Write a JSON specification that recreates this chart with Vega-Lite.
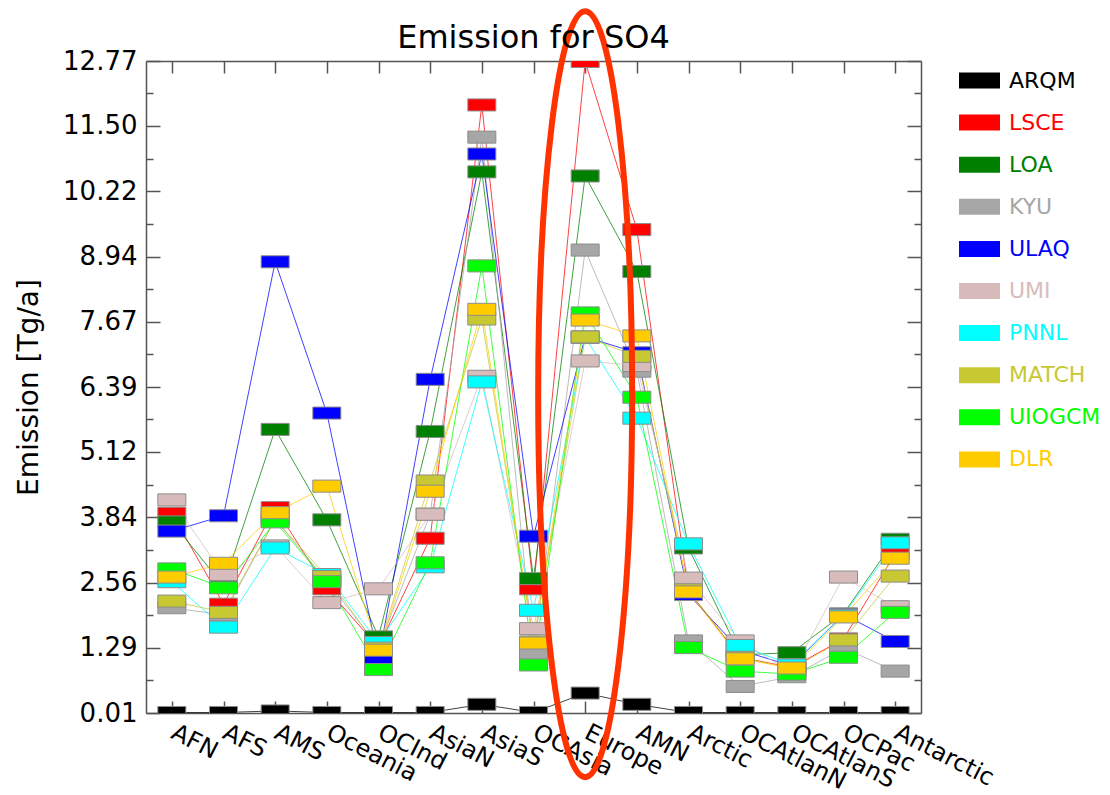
{
  "$schema": "https://vega.github.io/schema/vega-lite/v6.json",
  "autosize": "none",
  "width": 775,
  "height": 652,
  "padding": {"left": 146, "top": 61, "right": 189, "bottom": 82},
  "background": "white",
  "title": {"text": "Emission for SO4", "font": "DejaVu Sans", "fontSize": 32, "fontWeight": "normal", "color": "black", "anchor": "middle", "baseline": "alphabetic", "offset": -81, "frame": "group"},
  "config": {
    "view": {"stroke": null},
    "axis": {"grid": false, "domainColor": "#555555", "tickColor": "#555555", "domainWidth": 1.5, "tickWidth": 1.5, "labelColor": "black", "labelFont": "DejaVu Sans"}
  },
  "datasets": {
    "emis": [
      {"model": "ARQM", "region": "AFN", "value": 0.02}, {"model": "ARQM", "region": "AFS", "value": 0.02}, {"model": "ARQM", "region": "AMS", "value": 0.05}, {"model": "ARQM", "region": "Oceania", "value": 0.02}, {"model": "ARQM", "region": "OCInd", "value": 0.02}, {"model": "ARQM", "region": "AsiaN", "value": 0.02}, {"model": "ARQM", "region": "AsiaS", "value": 0.18}, {"model": "ARQM", "region": "OCAsia", "value": 0.02}, {"model": "ARQM", "region": "Europe", "value": 0.40}, {"model": "ARQM", "region": "AMN", "value": 0.18}, {"model": "ARQM", "region": "Arctic", "value": 0.02}, {"model": "ARQM", "region": "OCAtlanN", "value": 0.02}, {"model": "ARQM", "region": "OCAtlanS", "value": 0.02}, {"model": "ARQM", "region": "OCPac", "value": 0.02}, {"model": "ARQM", "region": "Antarctic", "value": 0.02},
      {"model": "LSCE", "region": "AFN", "value": 3.92}, {"model": "LSCE", "region": "AFS", "value": 2.14}, {"model": "LSCE", "region": "AMS", "value": 4.03}, {"model": "LSCE", "region": "Oceania", "value": 2.44}, {"model": "LSCE", "region": "OCInd", "value": 1.30}, {"model": "LSCE", "region": "AsiaN", "value": 3.43}, {"model": "LSCE", "region": "AsiaS", "value": 11.91}, {"model": "LSCE", "region": "OCAsia", "value": 2.44}, {"model": "LSCE", "region": "Europe", "value": 12.76}, {"model": "LSCE", "region": "AMN", "value": 9.47}, {"model": "LSCE", "region": "Arctic", "value": 2.40}, {"model": "LSCE", "region": "OCAtlanN", "value": 1.10}, {"model": "LSCE", "region": "OCAtlanS", "value": 0.90}, {"model": "LSCE", "region": "OCPac", "value": 1.46}, {"model": "LSCE", "region": "Antarctic", "value": 3.13},
      {"model": "LOA", "region": "AFN", "value": 3.75}, {"model": "LOA", "region": "AFS", "value": 2.50}, {"model": "LOA", "region": "AMS", "value": 5.56}, {"model": "LOA", "region": "Oceania", "value": 3.79}, {"model": "LOA", "region": "OCInd", "value": 1.50}, {"model": "LOA", "region": "AsiaN", "value": 5.52}, {"model": "LOA", "region": "AsiaS", "value": 10.60}, {"model": "LOA", "region": "OCAsia", "value": 2.64}, {"model": "LOA", "region": "Europe", "value": 10.52}, {"model": "LOA", "region": "AMN", "value": 8.65}, {"model": "LOA", "region": "Arctic", "value": 3.24}, {"model": "LOA", "region": "OCAtlanN", "value": 1.15}, {"model": "LOA", "region": "OCAtlanS", "value": 1.19}, {"model": "LOA", "region": "OCPac", "value": 1.95}, {"model": "LOA", "region": "Antarctic", "value": 3.41},
      {"model": "KYU", "region": "AFN", "value": 2.07}, {"model": "KYU", "region": "AFS", "value": 1.93}, {"model": "KYU", "region": "AMS", "value": 3.80}, {"model": "KYU", "region": "Oceania", "value": 2.60}, {"model": "KYU", "region": "OCInd", "value": 1.30}, {"model": "KYU", "region": "AsiaN", "value": 3.90}, {"model": "KYU", "region": "AsiaS", "value": 11.28}, {"model": "KYU", "region": "OCAsia", "value": 1.16}, {"model": "KYU", "region": "Europe", "value": 9.07}, {"model": "KYU", "region": "AMN", "value": 6.70}, {"model": "KYU", "region": "Arctic", "value": 1.42}, {"model": "KYU", "region": "OCAtlanN", "value": 0.53}, {"model": "KYU", "region": "OCAtlanS", "value": 0.72}, {"model": "KYU", "region": "OCPac", "value": 1.28}, {"model": "KYU", "region": "Antarctic", "value": 0.83},
      {"model": "ULAQ", "region": "AFN", "value": 3.57}, {"model": "ULAQ", "region": "AFS", "value": 3.87}, {"model": "ULAQ", "region": "AMS", "value": 8.84}, {"model": "ULAQ", "region": "Oceania", "value": 5.88}, {"model": "ULAQ", "region": "OCInd", "value": 1.06}, {"model": "ULAQ", "region": "AsiaN", "value": 6.54}, {"model": "ULAQ", "region": "AsiaS", "value": 10.95}, {"model": "ULAQ", "region": "OCAsia", "value": 3.47}, {"model": "ULAQ", "region": "Europe", "value": 7.37}, {"model": "ULAQ", "region": "AMN", "value": 7.06}, {"model": "ULAQ", "region": "Arctic", "value": 2.33}, {"model": "ULAQ", "region": "OCAtlanN", "value": 1.24}, {"model": "ULAQ", "region": "OCAtlanS", "value": 0.93}, {"model": "ULAQ", "region": "OCPac", "value": 1.94}, {"model": "ULAQ", "region": "Antarctic", "value": 1.41},
      {"model": "UMI", "region": "AFN", "value": 4.18}, {"model": "UMI", "region": "AFS", "value": 2.72}, {"model": "UMI", "region": "AMS", "value": 3.28}, {"model": "UMI", "region": "Oceania", "value": 2.17}, {"model": "UMI", "region": "OCInd", "value": 2.44}, {"model": "UMI", "region": "AsiaN", "value": 3.90}, {"model": "UMI", "region": "AsiaS", "value": 6.60}, {"model": "UMI", "region": "OCAsia", "value": 1.66}, {"model": "UMI", "region": "Europe", "value": 6.90}, {"model": "UMI", "region": "AMN", "value": 6.81}, {"model": "UMI", "region": "Arctic", "value": 2.65}, {"model": "UMI", "region": "OCAtlanN", "value": 1.42}, {"model": "UMI", "region": "OCAtlanS", "value": 0.80}, {"model": "UMI", "region": "OCPac", "value": 2.67}, {"model": "UMI", "region": "Antarctic", "value": 2.09},
      {"model": "PNNL", "region": "AFN", "value": 2.58}, {"model": "PNNL", "region": "AFS", "value": 1.69}, {"model": "PNNL", "region": "AMS", "value": 3.24}, {"model": "PNNL", "region": "Oceania", "value": 2.72}, {"model": "PNNL", "region": "OCInd", "value": 1.39}, {"model": "PNNL", "region": "AsiaN", "value": 2.87}, {"model": "PNNL", "region": "AsiaS", "value": 6.49}, {"model": "PNNL", "region": "OCAsia", "value": 2.02}, {"model": "PNNL", "region": "Europe", "value": 7.36}, {"model": "PNNL", "region": "AMN", "value": 5.78}, {"model": "PNNL", "region": "Arctic", "value": 3.32}, {"model": "PNNL", "region": "OCAtlanN", "value": 1.33}, {"model": "PNNL", "region": "OCAtlanS", "value": 0.95}, {"model": "PNNL", "region": "OCPac", "value": 1.92}, {"model": "PNNL", "region": "Antarctic", "value": 3.34},
      {"model": "MATCH", "region": "AFN", "value": 2.20}, {"model": "MATCH", "region": "AFS", "value": 1.98}, {"model": "MATCH", "region": "AMS", "value": 3.80}, {"model": "MATCH", "region": "Oceania", "value": 2.68}, {"model": "MATCH", "region": "OCInd", "value": 1.28}, {"model": "MATCH", "region": "AsiaN", "value": 4.55}, {"model": "MATCH", "region": "AsiaS", "value": 7.72}, {"model": "MATCH", "region": "OCAsia", "value": 1.40}, {"model": "MATCH", "region": "Europe", "value": 7.37}, {"model": "MATCH", "region": "AMN", "value": 6.99}, {"model": "MATCH", "region": "Arctic", "value": 2.42}, {"model": "MATCH", "region": "OCAtlanN", "value": 1.10}, {"model": "MATCH", "region": "OCAtlanS", "value": 0.88}, {"model": "MATCH", "region": "OCPac", "value": 1.44}, {"model": "MATCH", "region": "Antarctic", "value": 2.69},
      {"model": "UIOGCM", "region": "AFN", "value": 2.83}, {"model": "UIOGCM", "region": "AFS", "value": 2.46}, {"model": "UIOGCM", "region": "AMS", "value": 3.75}, {"model": "UIOGCM", "region": "Oceania", "value": 2.58}, {"model": "UIOGCM", "region": "OCInd", "value": 0.86}, {"model": "UIOGCM", "region": "AsiaN", "value": 2.95}, {"model": "UIOGCM", "region": "AsiaS", "value": 8.76}, {"model": "UIOGCM", "region": "OCAsia", "value": 0.95}, {"model": "UIOGCM", "region": "Europe", "value": 7.84}, {"model": "UIOGCM", "region": "AMN", "value": 6.19}, {"model": "UIOGCM", "region": "Arctic", "value": 1.29}, {"model": "UIOGCM", "region": "OCAtlanN", "value": 0.83}, {"model": "UIOGCM", "region": "OCAtlanS", "value": 0.77}, {"model": "UIOGCM", "region": "OCPac", "value": 1.10}, {"model": "UIOGCM", "region": "Antarctic", "value": 1.98},
      {"model": "DLR", "region": "AFN", "value": 2.67}, {"model": "DLR", "region": "AFS", "value": 2.94}, {"model": "DLR", "region": "AMS", "value": 3.93}, {"model": "DLR", "region": "Oceania", "value": 4.45}, {"model": "DLR", "region": "OCInd", "value": 1.24}, {"model": "DLR", "region": "AsiaN", "value": 4.35}, {"model": "DLR", "region": "AsiaS", "value": 7.91}, {"model": "DLR", "region": "OCAsia", "value": 1.38}, {"model": "DLR", "region": "Europe", "value": 7.70}, {"model": "DLR", "region": "AMN", "value": 7.39}, {"model": "DLR", "region": "Arctic", "value": 2.38}, {"model": "DLR", "region": "OCAtlanN", "value": 1.07}, {"model": "DLR", "region": "OCAtlanS", "value": 0.89}, {"model": "DLR", "region": "OCPac", "value": 1.89}, {"model": "DLR", "region": "Antarctic", "value": 3.04}
    ]
  },
  "data": {"name": "emis"},
  "resolve": {"axis": {"x": "independent", "y": "independent"}},
  "layer": [
    {
      "mark": {"type": "line", "strokeWidth": 1, "opacity": 0.75, "clip": true},
      "encoding": {
        "x": {"field": "region", "type": "nominal",
          "scale": {"type": "point", "padding": 0.5, "domain": ["AFN", "AFS", "AMS", "Oceania", "OCInd", "AsiaN", "AsiaS", "OCAsia", "Europe", "AMN", "Arctic", "OCAtlanN", "OCAtlanS", "OCPac", "Antarctic"]},
          "axis": {"orient": "bottom", "title": null, "labelAngle": 27, "labelAlign": "left", "labelBaseline": "top", "labelFontSize": 24, "tickSize": -12, "labelPadding": 19, "labelOffset": 6}},
        "y": {"field": "value", "type": "quantitative",
          "scale": {"domain": [0.01, 12.77], "nice": false, "zero": false},
          "axis": {"orient": "left", "values": [0.01, 1.29, 2.56, 3.84, 5.12, 6.39, 7.67, 8.94, 10.22, 11.5, 12.77], "format": ".2f", "tickSize": -14, "labelPadding": 23, "labelFontSize": 26, "title": "Emission [Tg/a]", "titleFont": "DejaVu Sans", "titleFontSize": 28, "titleFontWeight": "normal", "titleColor": "black", "titlePadding": 19}},
        "color": {"field": "model", "type": "nominal",
          "scale": {"domain": ["ARQM", "LSCE", "LOA", "KYU", "ULAQ", "UMI", "PNNL", "MATCH", "UIOGCM", "DLR"], "range": ["#000000", "#ff0000", "#008000", "#a6a6a6", "#0000ff", "#d8bcbc", "#00ffff", "#c8c832", "#00ff00", "#ffcc00"]},
          "legend": {"orient": "none", "legendX": 813, "legendY": -1, "title": null, "symbolType": "M-1,-0.39H1V0.39H-1Z", "symbolSize": 1681, "symbolStrokeWidth": 0, "symbolOpacity": 1, "labelFont": "DejaVu Sans", "labelFontSize": 22, "labelOffset": 9, "rowPadding": 10.1,
            "encode": {"labels": {"update": {"fill": {"scale": "color", "field": "value"}}}, "symbols": {"update": {"fill": {"scale": "color", "field": "value"}, "opacity": {"value": 1}}}}}},
        "order": {"value": null}
      }
    },
    {
      "transform": [{"filter": "datum.model === 'ARQM'"}],
      "mark": {"type": "point", "shape": "M-1,-0.43H1V0.43H-1Z", "size": 784, "filled": true, "opacity": 1, "stroke": "#8c8c8c", "strokeWidth": 1, "clip": true},
      "encoding": {
        "x": {"field": "region", "type": "nominal", "axis": {"orient": "top", "title": null, "labels": false, "tickSize": -12}},
        "y": {"field": "value", "type": "quantitative", "axis": {"orient": "right", "title": null, "labels": false, "values": [0.01, 1.29, 2.56, 3.84, 5.12, 6.39, 7.67, 8.94, 10.22, 11.5, 12.77], "tickSize": -14}},
        "color": {"field": "model", "type": "nominal"}
      }
    },
    {
      "transform": [{"filter": "datum.model !== 'ARQM'"}],
      "mark": {"type": "point", "shape": "M-1,-0.43H1V0.43H-1Z", "size": 784, "filled": true, "opacity": 1, "stroke": "#8c8c8c", "strokeWidth": 1, "clip": true},
      "encoding": {
        "x": {"field": "region", "type": "nominal", "axis": null},
        "y": {"field": "value", "type": "quantitative", "axis": {"orient": "left", "title": null, "labels": false, "domain": false, "values": [0.65, 1.925, 3.2, 4.48, 5.755, 7.03, 8.305, 9.58, 10.86, 12.135], "tickSize": -7}},
        "color": {"field": "model", "type": "nominal"}
      }
    },
    {
      "data": {"values": [{}]},
      "mark": {"type": "point", "shape": "M0,-1A0.1227,1 0 1,1 0,1A0.1227,1 0 1,1 0,-1Z", "size": 586756, "filled": false, "stroke": "#ff3300", "strokeWidth": 6, "opacity": 1, "clip": false},
      "encoding": {
        "x": {"datum": "Europe", "type": "nominal", "axis": null},
        "y": {"datum": 6.25, "type": "quantitative", "axis": {"orient": "right", "title": null, "labels": false, "domain": false, "values": [0.65, 1.925, 3.2, 4.48, 5.755, 7.03, 8.305, 9.58, 10.86, 12.135], "tickSize": -7}}
      }
    }
  ]
}
